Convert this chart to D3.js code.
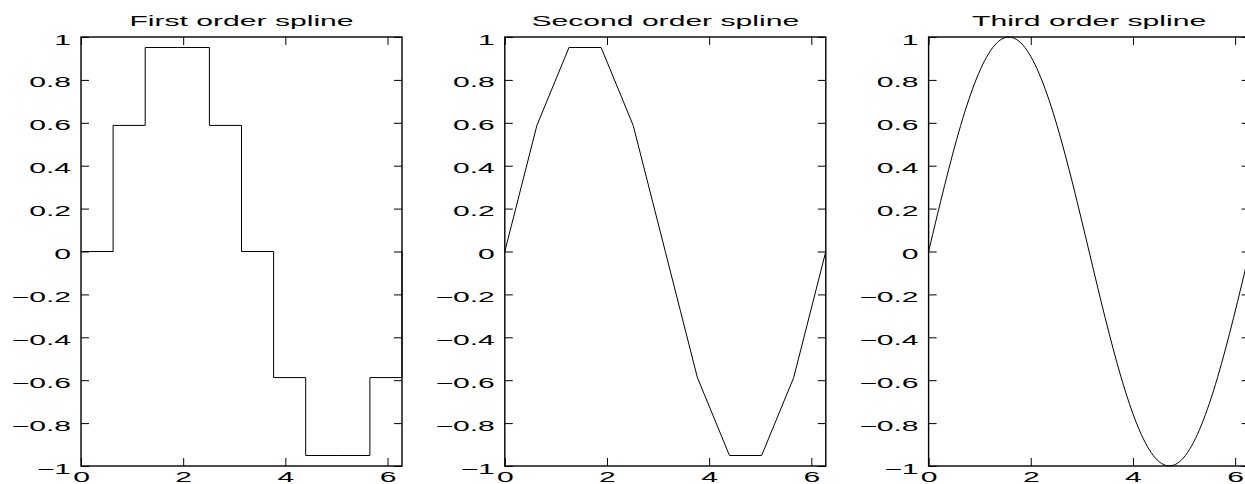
<!DOCTYPE html>
<html>
<head>
<meta charset="utf-8">
<script src="https://cdn.jsdelivr.net/npm/d3@7"></script>
<style>
  html, body { margin: 0; padding: 0; background: #fff; overflow: hidden; }
  svg { display: block; }
  text { font-family: "Liberation Sans", Arial, Helvetica, sans-serif; fill: #000; }
</style>
</head>
<body>
<svg id="chart" width="1245" height="484"></svg>
<script>
// Spline knots: sin(x) sampled every 2*pi/10 over one period
const knotX = [0, 0.6283, 1.2566, 1.8850, 2.5133, 3.1416, 3.7699, 4.3982, 5.0265, 5.6549, 6.2832];
const knotY = [0, 0.5878, 0.9511, 0.9511, 0.5878, 0, -0.5878, -0.9511, -0.9511, -0.5878, 0];

const panelTitles = ["First order spline", "Second order spline", "Third order spline"];
const xTicks = [0, 2, 4, 6];
const xTickLabels = ["0", "2", "4", "6"];
const yTicks = [-1, -0.8, -0.6, -0.4, -0.2, 0, 0.2, 0.4, 0.6, 0.8, 1];
const yTickLabels = ["\u22121", "\u22120.8", "\u22120.6", "\u22120.4", "\u22120.2", "0", "0.2", "0.4", "0.6", "0.8", "1"];
const xDomain = [0, 6.2832];
const yDomain = [-1, 1];

// Interpolation used for each order: piecewise constant, linear, cubic
const panelCurves = [d3.curveStepAfter, d3.curveLinear, d3.curveNatural];

const svg = d3.select("#chart");
const firstLeft = 81, panelStep = 423.8, panelWidth = 321;
const plotTop = 37, plotBottom = 466;
const stretch = 2.15;      // wide glyphs of the figure text
const fontSize = 14;
const tickLen = 8;

const pts = knotX.map((x, i) => [x, knotY[i]]);

panelTitles.forEach((title, i) => {
  const left = firstLeft + i * panelStep;
  const x = d3.scaleLinear().domain(xDomain).range([left, left + panelWidth]);
  const y = d3.scaleLinear().domain(yDomain).range([plotBottom, plotTop]);

  const g = svg.append("g");

  // Inward tick marks on all four sides
  const bottomAxis = g.append("g").attr("transform", `translate(0,${plotBottom})`)
    .call(d3.axisBottom(x).tickValues(xTicks).tickSize(-tickLen).tickSizeOuter(0)
      .tickPadding(6).tickFormat((d, j) => xTickLabels[j]));
  const topAxis = g.append("g").attr("transform", `translate(0,${plotTop})`)
    .call(d3.axisTop(x).tickValues(xTicks).tickSize(-tickLen).tickSizeOuter(0).tickFormat(""));
  const leftAxis = g.append("g").attr("transform", `translate(${left},0)`)
    .call(d3.axisLeft(y).tickValues(yTicks).tickSize(-tickLen).tickSizeOuter(0)
      .tickPadding(10).tickFormat((d, j) => yTickLabels[j]));
  const rightAxis = g.append("g").attr("transform", `translate(${left + panelWidth},0)`)
    .call(d3.axisRight(y).tickValues(yTicks).tickSize(-tickLen).tickSizeOuter(0).tickFormat(""));

  [bottomAxis, topAxis, leftAxis, rightAxis].forEach(a => {
    a.select(".domain").remove();
    a.selectAll(".tick line").attr("stroke", "#000").attr("stroke-width", 1);
  });

  bottomAxis.selectAll("text")
    .attr("font-size", fontSize)
    .attr("font-family", null)
    .attr("transform", `scale(${stretch},1)`);
  leftAxis.selectAll("text")
    .attr("font-size", fontSize)
    .attr("font-family", null)
    .attr("x", -10 / stretch)
    .attr("dy", "0.5em")
    .attr("transform", `scale(${stretch},1)`);

  // Axes box
  g.append("rect")
    .attr("x", left).attr("y", plotTop)
    .attr("width", panelWidth).attr("height", plotBottom - plotTop)
    .attr("fill", "none").attr("stroke", "#000").attr("stroke-width", 1.4);

  // Spline curve
  const line = d3.line().x(d => x(d[0])).y(d => y(d[1])).curve(panelCurves[i]);
  g.append("path")
    .datum(pts)
    .attr("d", line)
    .attr("fill", "none")
    .attr("stroke", "#000")
    .attr("stroke-width", 1);

  // Panel title
  g.append("text")
    .attr("transform", `translate(${left + panelWidth / 2},26) scale(${stretch},1)`)
    .attr("text-anchor", "middle")
    .attr("font-size", fontSize)
    .text(title);
});
</script>
</body>
</html>
